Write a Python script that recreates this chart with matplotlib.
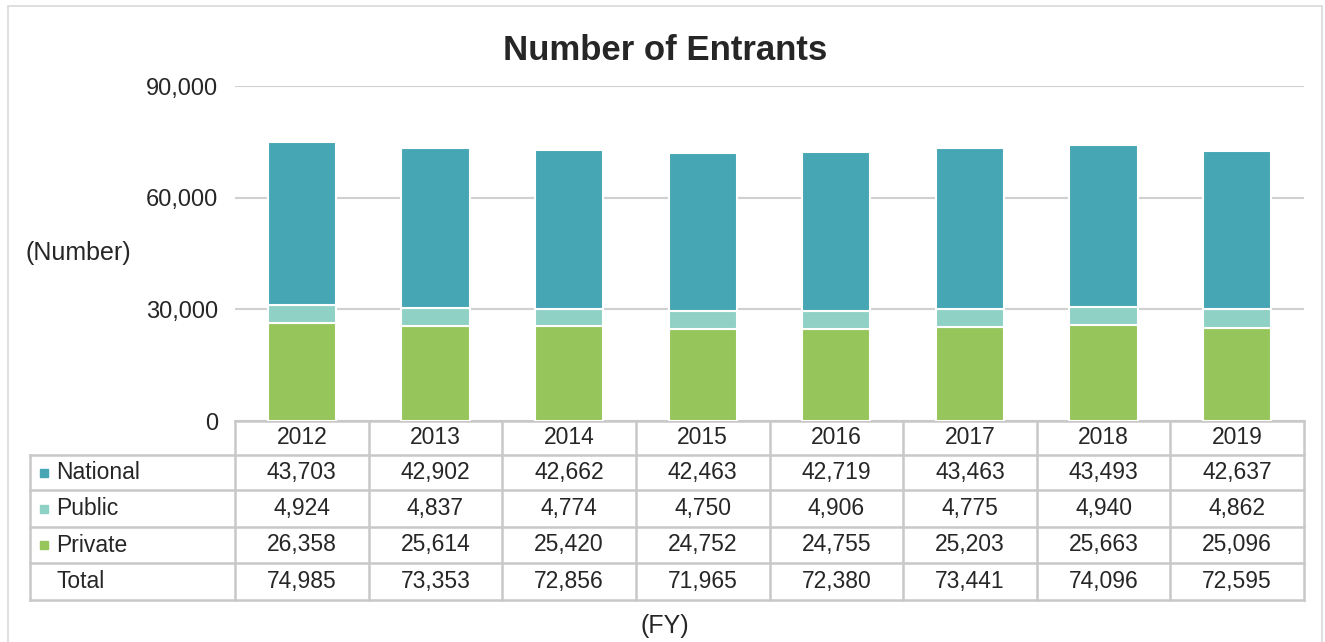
import matplotlib.pyplot as plt
from matplotlib.patches import Rectangle
from matplotlib.transforms import blended_transform_factory

plt.rcParams['font.family'] = ['Liberation Sans', 'DejaVu Sans']

years = ["2012", "2013", "2014", "2015", "2016", "2017", "2018", "2019"]
national = [43703, 42902, 42662, 42463, 42719, 43463, 43493, 42637]
public = [4924, 4837, 4774, 4750, 4906, 4775, 4940, 4862]
private = [26358, 25614, 25420, 24752, 24755, 25203, 25663, 25096]
total = [74985, 73353, 72856, 71965, 72380, 73441, 74096, 72595]

c_nat = "#46A6B4"
c_pub = "#8FD2C5"
c_priv = "#96C55B"
grid_c = "#D0D0D0"
txt_c = "#262626"

W, H = 1325, 642
fig = plt.figure(figsize=(W / 100, H / 100), dpi=100)


def fy(py):
    return 1 - py / H


ax = fig.add_axes([235 / W, fy(421), (1304 - 235) / W, (421 - 86) / H])

x = list(range(len(years)))
bw = 0.51
ax.bar(x, private, bw, color=c_priv, edgecolor="white", linewidth=1.5, zorder=3)
ax.bar(x, public, bw, bottom=private, color=c_pub, edgecolor="white", linewidth=1.5, zorder=3)
bottoms = [a + b for a, b in zip(private, public)]
ax.bar(x, national, bw, bottom=bottoms, color=c_nat, edgecolor="white", linewidth=1.5, zorder=3)

ax.set_xlim(-0.5, len(years) - 0.5)
ax.set_ylim(0, 90000)
ax.set_yticks([0, 30000, 60000, 90000])
ax.set_yticklabels([f"{v:,}" for v in [0, 30000, 60000, 90000]], fontsize=17, color=txt_c)
ax.tick_params(axis="y", length=0, pad=12)
ax.set_xticks([])
ax.yaxis.grid(True, color=grid_c, linewidth=1.5, zorder=0)
for s in ax.spines.values():
    s.set_visible(False)

fig.text(665 / W, fy(50), "Number of Entrants", fontsize=25, fontweight="bold",
         ha="center", va="center", color=txt_c)
fig.text(78 / W, fy(253), "(Number)", fontsize=18, ha="center", va="center", color=txt_c)
fig.text(665 / W, fy(626), "(FY)", fontsize=18, ha="center", va="center", color=txt_c)

# data table under the axis
tr = blended_transform_factory(ax.transData, fig.transFigure)
row_y = [421, 455, 490, 527, 563, 600]
line_kw = dict(color="#C8C8C8", linewidth=1.8, clip_on=False)
# header row (years)
ax.plot([-0.5, len(years) - 0.5], [fy(421)] * 2, transform=tr, **line_kw)
for yy in row_y[1:]:
    fig.add_artist(plt.Line2D([30 / W, 1304 / W], [fy(yy)] * 2, **line_kw))
fig.add_artist(plt.Line2D([30 / W, 30 / W], [fy(455), fy(600)], **line_kw))
for i in range(len(years) + 1):
    ax.plot([i - 0.5, i - 0.5], [fy(421), fy(600)], transform=tr, **line_kw)

for i, yr in enumerate(years):
    ax.text(i, fy(438), yr, transform=tr, ha="center", va="center", fontsize=16.5, color=txt_c)

rows = [("National", c_nat, national), ("Public", c_pub, public),
        ("Private", c_priv, private), ("Total", None, total)]
for r, (name, col, vals) in enumerate(rows):
    yc = fy((row_y[r + 1] + row_y[r + 2]) / 2)
    if col:
        fig.add_artist(Rectangle((40 / W, yc - 4 / H), 8 / W, 8 / H,
                                 transform=fig.transFigure, color=col))
    fig.text(56 / W, yc, name, fontsize=16.5, ha="left", va="center", color=txt_c)
    for i, v in enumerate(vals):
        ax.text(i, yc, f"{v:,}", transform=tr, ha="center", va="center",
                fontsize=16.5, color=txt_c)

# outer chart border
fig.add_artist(Rectangle((8 / W, -0.01), 1314 / W, 1.0, transform=fig.transFigure,
                         fill=False, edgecolor="#D9D9D9", linewidth=1.2))

fig.savefig("out.png", dpi=100)
